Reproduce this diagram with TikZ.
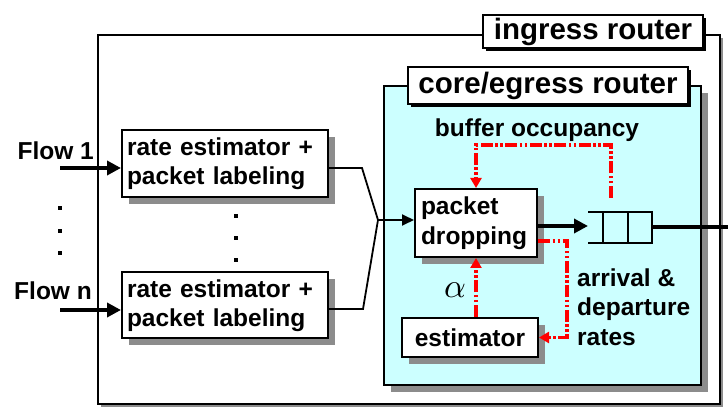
\documentclass[tikz,border=0pt]{standalone}
\usepackage{fontspec}
\setmainfont{Liberation Sans}
\usetikzlibrary{shadows,arrows.meta,calc}
\definecolor{corecyan}{HTML}{CCFFFF}
\definecolor{shadowgray}{HTML}{8C8C8C}
\tikzset{
  x=1pt,y=-1pt,
  txt/.style={font=\fontsize{24.5}{29.5}\selectfont\bfseries, inner sep=0pt},
  lbl/.style={font=\fontsize{29.5}{32}\selectfont\bfseries, draw, fill=white, line width=1.6pt, inner sep=0pt,
    drop shadow={shadow xshift=3pt, shadow yshift=-3pt, fill=black, opacity=1}},
  blk/.style={draw, fill=white, line width=2pt, inner sep=0pt, align=left,
    font=\fontsize{24.5}{29.5}\selectfont\bfseries,
    drop shadow={shadow xshift=7pt, shadow yshift=-7pt, fill=shadowgray, opacity=1}},
  thickarrow/.style={line width=4pt, -{Triangle[length=14pt,width=14pt]}},
  thinarrow/.style={line width=1.8pt, -{Triangle[length=12pt,width=11pt]}},
  redline/.style={red, line width=3.2pt, dash pattern=on 12pt off 2.5pt on 2.5pt off 2.5pt on 2.5pt off 2.5pt},
  redarrow/.style={redline, -{Triangle[length=10pt,width=11pt]}},
  dotmark/.style={fill=black, minimum size=4.5pt, inner sep=0pt},
}
\begin{document}
\begin{tikzpicture}
\useasboundingbox (0,0) rectangle (728,411);
\fill[white] (0,0) rectangle (728,411);
% outer ingress router box
\fill[shadowgray] (101,38) rectangle (723,407);
\draw[line width=2pt, fill=white] (98,35) rectangle (720,404);
\node[lbl, minimum width=220pt, minimum height=33pt] (ing) at (593,31.5) {ingress router};
% core box
\draw[line width=2pt, fill=corecyan, drop shadow={shadow xshift=7pt, shadow yshift=-7pt, fill=shadowgray, opacity=1}] (384,86) rectangle (701,385);
\node[lbl, minimum width=280pt, minimum height=37pt] (core) at (548,85.5) {core/egress router};
% rate estimator boxes
\node[blk, minimum width=206pt, minimum height=67pt, text width=196pt] (r1) at (225,163.5) {rate estimator +\\packet labeling};
\node[blk, minimum width=206pt, minimum height=66pt, text width=196pt] (r2) at (225,305.5) {rate estimator +\\packet labeling};
% flows
\node[txt, anchor=east] (f1) at (94,151) {Flow 1};
\node[txt, anchor=east] (fn) at (92,291) {Flow n};
\coordinate (f1s) at (60,168);
\coordinate (fns) at (60,310);
\draw[thickarrow] (f1s) -- (f1s -| r1.west);
\draw[thickarrow] (fns) -- (fns -| r2.west);
\node[dotmark] (ld1) at (60,208) {};
\node[dotmark] (ld2) at (60,231) {};
\node[dotmark] (ld3) at (60,253) {};
\node[dotmark] (md1) at (236,216) {};
\node[dotmark] (md2) at (236,238) {};
\node[dotmark] (md3) at (236,260) {};
% packet dropping and estimator
\node[blk, minimum width=122pt, minimum height=68pt, text width=110pt] (pd) at (476,223) {packet\\dropping};
\node[blk, minimum width=136pt, minimum height=39pt, align=center] (est) at (470,337.5) {estimator};
% merge
\coordinate (j) at (378,220);
\draw[line width=1.8pt] (r1.east |- 0,168) -- (362,168) -- (j);
\draw[line width=1.8pt] (r2.east |- 0,309) -- (363,309) -- (j);
\draw[thinarrow] (j) -- (j -| pd.west);
% queue
\coordinate (qin) at (588,226);
\draw[thickarrow] (pd.east |- qin) -- (qin);
\draw[line width=2.5pt] (588,212) -- (652,212) (588,243) -- (652,243)
  (603,212) -- (603,243) (628,212) -- (628,243) (652,210.8) -- (652,244.2);
\coordinate (qout) at (652,227);
\coordinate (edge) at (728,227);
\draw[line width=4pt] (qout) -- (edge);
% buffer occupancy
\node[txt] (bo) at (537,130) {buffer occupancy};
\coordinate (qtop) at (611,198);
\draw[redarrow] (qtop) -- (611,145) -| (pd.north);
% arrival & departure
\coordinate (ad) at ($(pd.east)+(0,18)$);
\draw[redarrow] (ad) -- (567,241) |- (est.east);
\node[txt, anchor=west, align=left] (arr) at (577,307) {arrival \&\\departure\\rates};
% alpha
\draw[redarrow] (pd.south |- est.north) -- (pd.south);
\node[inner sep=0pt] (alpha) at (455,290) {\scalebox{3.4}{$\alpha$}};
\end{tikzpicture}
\end{document}
